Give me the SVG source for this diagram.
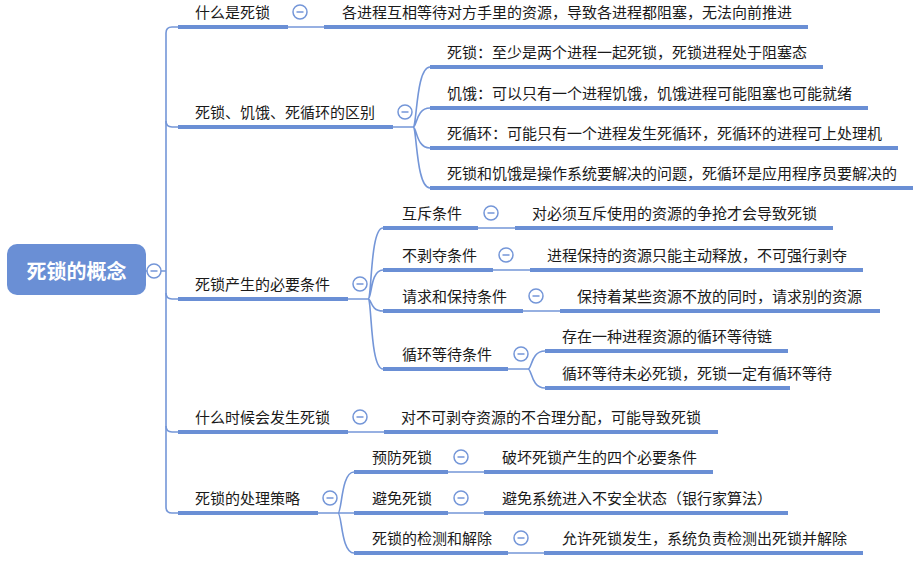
<svg xmlns="http://www.w3.org/2000/svg" width="922" height="562" viewBox="0 0 922 562">
<style>
.t{font-family:"Noto Sans CJK SC","Noto Sans",sans-serif;font-size:15px;fill:#1a1a1a}
.r{font-family:"Noto Sans CJK SC","Noto Sans",sans-serif;font-size:20px;font-weight:bold;fill:#ffffff}
.u{stroke:#6a8fd5;stroke-width:4;fill:none}
.c{stroke:#7496d8;stroke-width:1.6;fill:none}
.k{stroke:#7496d8;stroke-width:1.5;fill:#ffffff}
.m{stroke:#7496d8;stroke-width:1.5}
</style>
<defs>
<g id="col"><circle class="k" cx="0" cy="0" r="7"/><line class="m" x1="-3.5" y1="0" x2="3.5" y2="0"/></g>
</defs>
<rect width="922" height="562" fill="#ffffff"/>
<g id="connectors">
<path class="c" d="M178 27 H172 Q166 27 166 33 V507 Q166 513 172 513 H178"/>
<path class="c" d="M166 121 Q166 127 172 127 H178"/>
<path class="c" d="M166 293 Q166 299 172 299 H178"/>
<path class="c" d="M166 426 Q166 432 172 432 H178"/>
<path class="c" d="M146 271 H147 M161 271 H166"/>
<path class="c" d="M288 27 H324"/>
<path class="c" d="M393 127 H413 M413 127 C417 127 416 67 430 67 M413 127 C417 127 416 108 430 108 M413 127 C417 127 416 148 430 148 M413 127 C417 127 416 188 430 188"/>
<path class="c" d="M348 299 H368 M368 299 C372 299 370 228 383 228 M368 299 C372 299 370 270 383 270 M368 299 C372 299 370 311 383 311 M368 299 C372 299 370 369 383 369"/>
<path class="c" d="M478 228 H515 M493 270 H530 M523 311 H560"/>
<path class="c" d="M508 369 H528 M528 369 C532 369 531 351 545 351 M528 369 C532 369 531 388 545 388"/>
<path class="c" d="M348 432 H384"/>
<path class="c" d="M318 513 H338 M338 513 C342 513 341 472 354 472 M338 513 H354 M338 513 C342 513 341 553 354 553"/>
<path class="c" d="M448 472 H484 M448 513 H484 M508 553 H544"/>
</g>
<g id="root">
<rect x="7" y="244" width="139" height="51" rx="10" fill="#6a8fd5"/>
<text class="r" x="76.5" y="279" text-anchor="middle">死锁的概念</text>
<use href="#col" x="154" y="271"/>
</g>
<g id="n1">
<line class="u" x1="178" y1="27" x2="288" y2="27"/>
<text class="t" x="195" y="18">什么是死锁</text>
<use href="#col" x="300" y="12"/>
</g>
<g id="n1a">
<line class="u" x1="324" y1="27" x2="808" y2="27"/>
<text class="t" x="342" y="18">各进程互相等待对方手里的资源，导致各进程都阻塞，无法向前推进</text>
</g>
<g id="n2">
<line class="u" x1="178" y1="127" x2="393" y2="127"/>
<text class="t" x="195" y="118">死锁、饥饿、死循环的区别</text>
<use href="#col" x="405" y="112"/>
</g>
<g id="n2a">
<line class="u" x1="430" y1="67" x2="823" y2="67"/>
<text class="t" x="447" y="58">死锁：至少是两个进程一起死锁，死锁进程处于阻塞态</text>
</g>
<g id="n2b">
<line class="u" x1="430" y1="108" x2="868" y2="108"/>
<text class="t" x="447" y="99">饥饿：可以只有一个进程饥饿，饥饿进程可能阻塞也可能就绪</text>
</g>
<g id="n2c">
<line class="u" x1="430" y1="148" x2="898" y2="148"/>
<text class="t" x="447" y="139">死循环：可能只有一个进程发生死循环，死循环的进程可上处理机</text>
</g>
<g id="n2d">
<line class="u" x1="430" y1="188" x2="913" y2="188"/>
<text class="t" x="447" y="179">死锁和饥饿是操作系统要解决的问题，死循环是应用程序员要解决的</text>
</g>
<g id="n3">
<line class="u" x1="178" y1="299" x2="348" y2="299"/>
<text class="t" x="195" y="290">死锁产生的必要条件</text>
<use href="#col" x="360" y="284"/>
</g>
<g id="n3a">
<line class="u" x1="383" y1="228" x2="478" y2="228"/>
<text class="t" x="402" y="219">互斥条件</text>
<use href="#col" x="491" y="213"/>
</g>
<g id="n3a1">
<line class="u" x1="515" y1="228" x2="833" y2="228"/>
<text class="t" x="532" y="219">对必须互斥使用的资源的争抢才会导致死锁</text>
</g>
<g id="n3b">
<line class="u" x1="383" y1="270" x2="493" y2="270"/>
<text class="t" x="402" y="261">不剥夺条件</text>
<use href="#col" x="506" y="255"/>
</g>
<g id="n3b1">
<line class="u" x1="530" y1="270" x2="863" y2="270"/>
<text class="t" x="547" y="261">进程保持的资源只能主动释放，不可强行剥夺</text>
</g>
<g id="n3c">
<line class="u" x1="383" y1="311" x2="523" y2="311"/>
<text class="t" x="402" y="302">请求和保持条件</text>
<use href="#col" x="536" y="296"/>
</g>
<g id="n3c1">
<line class="u" x1="560" y1="311" x2="880" y2="311"/>
<text class="t" x="577" y="302">保持着某些资源不放的同时，请求别的资源</text>
</g>
<g id="n3d">
<line class="u" x1="383" y1="369" x2="508" y2="369"/>
<text class="t" x="402" y="360">循环等待条件</text>
<use href="#col" x="521" y="354"/>
</g>
<g id="n3d1">
<line class="u" x1="545" y1="351" x2="788" y2="351"/>
<text class="t" x="562" y="342">存在一种进程资源的循环等待链</text>
</g>
<g id="n3d2">
<line class="u" x1="545" y1="388" x2="790" y2="388"/>
<text class="t" x="562" y="379">循环等待未必死锁，死锁一定有循环等待</text>
</g>
<g id="n4">
<line class="u" x1="178" y1="432" x2="348" y2="432"/>
<text class="t" x="195" y="423">什么时候会发生死锁</text>
<use href="#col" x="360" y="417"/>
</g>
<g id="n4a">
<line class="u" x1="384" y1="432" x2="718" y2="432"/>
<text class="t" x="401" y="423">对不可剥夺资源的不合理分配，可能导致死锁</text>
</g>
<g id="n5">
<line class="u" x1="178" y1="513" x2="318" y2="513"/>
<text class="t" x="195" y="504">死锁的处理策略</text>
<use href="#col" x="330" y="498"/>
</g>
<g id="n5a">
<line class="u" x1="354" y1="472" x2="448" y2="472"/>
<text class="t" x="372" y="463">预防死锁</text>
<use href="#col" x="461" y="457"/>
</g>
<g id="n5a1">
<line class="u" x1="484" y1="472" x2="713" y2="472"/>
<text class="t" x="502" y="463">破坏死锁产生的四个必要条件</text>
</g>
<g id="n5b">
<line class="u" x1="354" y1="513" x2="448" y2="513"/>
<text class="t" x="372" y="504">避免死锁</text>
<use href="#col" x="461" y="498"/>
</g>
<g id="n5b1">
<line class="u" x1="484" y1="513" x2="788" y2="513"/>
<text class="t" x="502" y="504">避免系统进入不安全状态（银行家算法）</text>
</g>
<g id="n5c">
<line class="u" x1="354" y1="553" x2="508" y2="553"/>
<text class="t" x="372" y="544">死锁的检测和解除</text>
<use href="#col" x="521" y="538"/>
</g>
<g id="n5c1">
<line class="u" x1="544" y1="553" x2="863" y2="553"/>
<text class="t" x="562" y="544">允许死锁发生，系统负责检测出死锁并解除</text>
</g>
</svg>
